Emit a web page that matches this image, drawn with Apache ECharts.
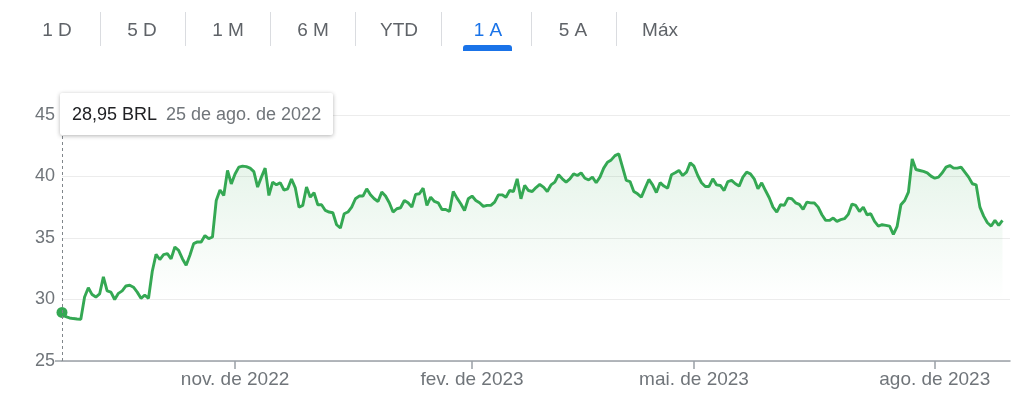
<!DOCTYPE html>
<html>
<head>
<meta charset="utf-8">
<script src="https://cdn.jsdelivr.net/npm/echarts@6/dist/echarts.min.js"></script>
<style>
  html, body { margin: 0; padding: 0; background: #fff; }
  #chart { width: 1020px; height: 400px; }
</style>
</head>
<body>
<div id="chart"></div>
<script>
// ---- Data ----
const startDate = '2022-08-25';
const endDate = '2023-08-29';
const holidays = ['2022-09-07','2022-10-12','2022-11-02','2022-11-15','2022-12-30',
                  '2023-02-20','2023-02-21','2023-04-07','2023-04-21','2023-05-01','2023-06-08'];
const prices = [
  28.95,28.6,28.5,28.45,28.42,28.4,30.2,30.95,30.4,30.2,
  30.45,31.84,30.7,30.6,30.0,30.5,30.7,31.1,31.16,31.0,
  30.6,30.1,30.35,30.1,32.3,33.68,33.25,33.65,33.73,33.3,
  34.27,34.0,33.32,32.78,33.6,34.54,34.68,34.68,35.2,34.95,
  35.08,38.05,38.9,38.46,40.5,39.4,40.2,40.76,40.84,40.8,
  40.68,40.4,39.14,39.95,40.68,38.46,39.54,39.32,39.5,38.9,
  39.0,39.8,39.1,37.5,37.65,39.14,38.32,38.68,37.7,37.7,
  37.24,37.11,37.05,36.08,35.81,36.97,37.11,37.51,38.19,38.41,
  38.41,39.0,38.51,38.19,37.97,38.73,38.41,37.86,37.11,37.38,
  37.46,38.05,37.86,37.51,38.55,38.6,39.05,37.65,38.32,37.97,
  37.86,37.32,37.32,37.16,38.78,38.24,37.78,37.24,38.19,38.41,
  38.05,37.86,37.57,37.65,37.65,37.92,38.51,38.51,38.32,38.86,
  38.78,39.81,38.19,39.27,38.86,38.78,39.1,39.35,39.14,38.78,
  39.32,39.54,40.14,39.81,39.54,39.81,40.22,40.08,40.3,39.86,
  39.73,39.95,39.49,39.95,40.68,41.16,41.35,41.7,41.84,40.76,
  39.68,39.59,38.78,38.59,38.32,39.05,39.76,39.32,38.7,39.5,
  39.22,39.05,40.14,40.3,40.49,40.08,40.35,41.11,40.84,40.08,
  39.49,39.19,39.19,39.81,39.32,39.27,38.86,39.59,39.68,39.41,
  39.22,39.95,40.35,40.22,39.81,39.0,39.49,38.86,38.27,37.51,
  37.11,37.7,37.65,38.24,38.19,37.86,37.73,37.32,37.92,37.86,
  37.84,37.51,36.89,36.43,36.43,36.62,36.35,36.49,36.57,36.92,
  37.76,37.65,37.16,37.51,36.89,36.97,36.35,35.97,36.08,36.03,
  35.97,35.3,35.95,37.7,38.05,38.73,41.43,40.57,40.49,40.41,
  40.3,40.03,39.86,39.95,40.3,40.76,40.89,40.68,40.68,40.76,
  40.35,39.95,39.41,39.32,37.51,36.78,36.24,35.97,36.43,36.03,
  36.43
];
const yTicks = [25, 30, 35, 40, 45];
const monthAbbr = ['jan.','fev.','mar.','abr.','mai.','jun.','jul.','ago.','set.','out.','nov.','dez.'];
const labelMonths = [1, 4, 7, 10];   // fev, mai, ago, nov (0-based)
const tabs = ['1 D','5 D','1 M','6 M','YTD','1 A','5 A','Máx'];
const activeTab = '1 A';
const currency = 'BRL';

// ---- Trading-day categories ----
function buildDates() {
  const out = [];
  const hol = new Set(holidays);
  let t = Date.parse(startDate + 'T00:00:00Z');
  const end = Date.parse(endDate + 'T00:00:00Z');
  while (t <= end) {
    const d = new Date(t);
    const wd = d.getUTCDay();
    const s = d.toISOString().slice(0, 10);
    if (wd !== 0 && wd !== 6 && !hol.has(s)) out.push(s);
    t += 86400000;
  }
  return out;
}
const dates = buildDates();
const labelIdx = new Set();
dates.forEach((s, i) => {
  if (i === 0) return;
  const m = +s.slice(5, 7) - 1, pm = +dates[i - 1].slice(5, 7) - 1;
  if (m !== pm && labelMonths.includes(m)) labelIdx.add(i);
});
function fmtMonth(s) {
  return monthAbbr[+s.slice(5, 7) - 1] + ' de ' + s.slice(0, 4);
}
function fmtDay(s) {
  return (+s.slice(8, 10)) + ' de ' + fmtMonth(s);
}

const FONT = 'Arial, "Liberation Sans", sans-serif';
const GREEN = '#34a853';
const AXIS_GREY = '#9aa0a6';

// ---- Top tabs & tooltip graphics ----
const tabCenters = [57, 142, 228, 313, 399, 488, 573, 660];
const sepX = [100, 185, 270, 355, 441, 531, 616];
const graphics = [];
tabs.forEach((t, i) => {
  graphics.push({
    type: 'text', z: 100,
    style: { text: t, x: tabCenters[i], y: 30.5, textAlign: 'center', textVerticalAlign: 'middle',
             align: 'center', verticalAlign: 'middle',
             font: '19px ' + FONT, fill: t === activeTab ? '#1a73e8' : '#5f6368' }
  });
});
sepX.forEach(x => graphics.push({
  type: 'line', z: 100,
  shape: { x1: x + 0.5, y1: 12, x2: x + 0.5, y2: 46 },
  style: { stroke: '#dadce0', lineWidth: 1 }
}));
graphics.push({
  type: 'rect', z: 100,
  shape: { x: 463, y: 45, width: 49, height: 6, r: [3, 3, 0, 0] },
  style: { fill: '#1a73e8' }
});
// small extension of the x axis line to the left of the plot
graphics.push({
  type: 'line', z: 100,
  shape: { x1: 55, y1: 361, x2: 62, y2: 361 },
  style: { stroke: AXIS_GREY, lineWidth: 1.5 }
});
// tooltip box
graphics.push({
  type: 'rect', z: 100,
  shape: { x: 60, y: 93, width: 273, height: 42, r: 2 },
  style: { fill: '#fff', shadowBlur: 4, shadowOffsetY: 1, shadowColor: 'rgba(0,0,0,0.3)' }
});
graphics.push({
  type: 'text', z: 101,
  style: { text: prices[0].toFixed(2).replace('.', ',') + ' ' + currency, x: 72, y: 115,
           textVerticalAlign: 'middle', verticalAlign: 'middle',
           font: '18px ' + FONT, fill: '#202124' }
});
graphics.push({
  type: 'text', z: 101,
  style: { text: fmtDay(dates[0]), x: 166, y: 115,
           textVerticalAlign: 'middle', verticalAlign: 'middle',
           font: '18px ' + FONT, fill: '#70757a' }
});

const chart = echarts.init(document.getElementById('chart'), null, { renderer: 'canvas' });
chart.setOption({
  animation: false,
  backgroundColor: '#fff',
  textStyle: { fontFamily: FONT },
  grid: { left: 62, right: 10, top: 115, bottom: 39, containLabel: false },
  xAxis: {
    type: 'category',
    data: dates,
    boundaryGap: false,
    axisLine: { lineStyle: { color: AXIS_GREY, width: 1.5 } },
    axisTick: { show: true, length: 8, interval: (i) => labelIdx.has(i), lineStyle: { color: AXIS_GREY, width: 1.5 } },
    axisLabel: {
      interval: (i) => labelIdx.has(i),
      formatter: (v) => fmtMonth(v),
      color: '#70757a', fontSize: 19, margin: 9, fontFamily: FONT
    },
    splitLine: { show: false }
  },
  yAxis: {
    type: 'value',
    min: yTicks[0], max: yTicks[yTicks.length - 1], interval: 5,
    axisLine: { show: false }, axisTick: { show: false },
    axisLabel: { color: '#70757a', fontSize: 18, margin: 7, fontFamily: FONT },
    splitLine: { lineStyle: { color: '#ececec', width: 1 } }
  },
  series: [
    {
      type: 'line',
      data: prices,
      showSymbol: false,
      smooth: false,
      lineStyle: { color: GREEN, width: 2.9 },
      itemStyle: { color: GREEN },
      areaStyle: {
        origin: 'start',
        color: new echarts.graphic.LinearGradient(0, 150, 0, 300, [
          { offset: 0, color: 'rgba(52,168,83,0.19)' },
          { offset: 1, color: 'rgba(52,168,83,0)' }
        ], true)
      },
      markLine: {
        silent: true, symbol: 'none',
        label: { show: false },
        lineStyle: { color: '#80868b', type: [3, 3], width: 1 },
        data: [{ xAxis: 0 }]
      },
      z: 3
    },
    {
      type: 'scatter',
      data: [[0, prices[0]]],
      symbol: 'circle', symbolSize: 11,
      itemStyle: { color: GREEN, opacity: 1 },
      z: 4
    }
  ],
  graphic: graphics
});
</script>
</body>
</html>
